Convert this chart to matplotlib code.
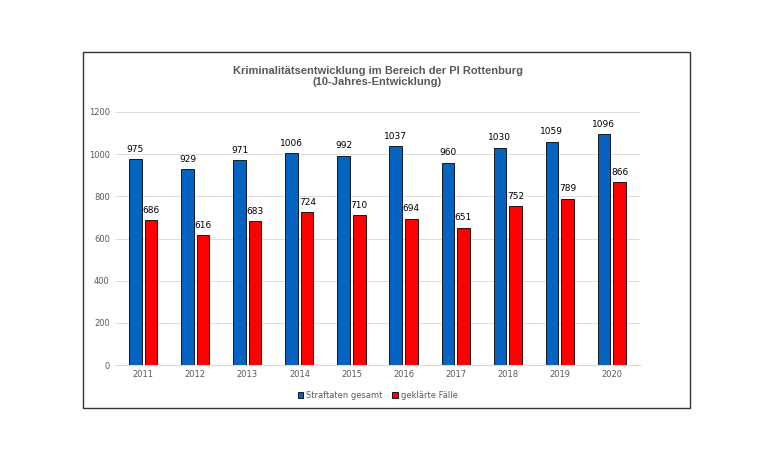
import matplotlib.pyplot as plt
from matplotlib.patches import Rectangle
import numpy as np

years = ['2011', '2012', '2013', '2014', '2015', '2016', '2017', '2018', '2019', '2020']
straftaten = [975, 929, 971, 1006, 992, 1037, 960, 1030, 1059, 1096]
geklaert = [686, 616, 683, 724, 710, 694, 651, 752, 789, 866]

fig = plt.figure(figsize=(7.8, 4.7), dpi=100)
fig.patches.append(Rectangle((0.106, 0.132), 0.778, 0.757, transform=fig.transFigure,
                             fill=False, edgecolor='#333333', linewidth=1.0))
ax = fig.add_axes([0.147, 0.223, 0.674, 0.539])

x = np.arange(len(years))
w = 0.24
b1 = ax.bar(x - 0.15, straftaten, w, color='#0563C1', edgecolor='black', linewidth=0.6, label='Straftaten gesamt')
b2 = ax.bar(x + 0.15, geklaert, w, color='#FF0000', edgecolor='black', linewidth=0.6, label='geklärte Fälle')
for i in range(len(years)):
    ax.text(x[i] - 0.15, straftaten[i] + 25, str(straftaten[i]), ha='center', va='bottom', fontsize=6.5)
    ax.text(x[i] + 0.15, geklaert[i] + 25, str(geklaert[i]), ha='center', va='bottom', fontsize=6.5)

ax.set_ylim(0, 1200)
ax.set_xlim(-0.55, len(years) - 0.45)
ax.set_yticks(range(0, 1201, 200))
ax.set_xticks(x)
ax.set_xticklabels(years)
ax.tick_params(labelsize=6, colors='#595959', length=0)
ax.grid(axis='y', color='#D9D9D9', linewidth=0.6)
ax.set_axisbelow(True)
for s in ['top', 'right', 'left']:
    ax.spines[s].set_visible(False)
ax.spines['bottom'].set_color('#D9D9D9')

fig.text(0.484, 0.86, 'Kriminalitätsentwicklung im Bereich der PI Rottenburg\n(10-Jahres-Entwicklung)',
         ha='center', va='top', fontsize=8, fontweight='bold', color='#595959', family='Liberation Sans')
fig.legend(handles=[b1, b2], loc='center', bbox_to_anchor=(0.484, 0.158), ncol=2, frameon=False,
           fontsize=6, handlelength=0.7, handleheight=0.7, columnspacing=1.2, handletextpad=0.3,
           labelcolor='#595959')

fig.savefig('out.png', dpi=100)
